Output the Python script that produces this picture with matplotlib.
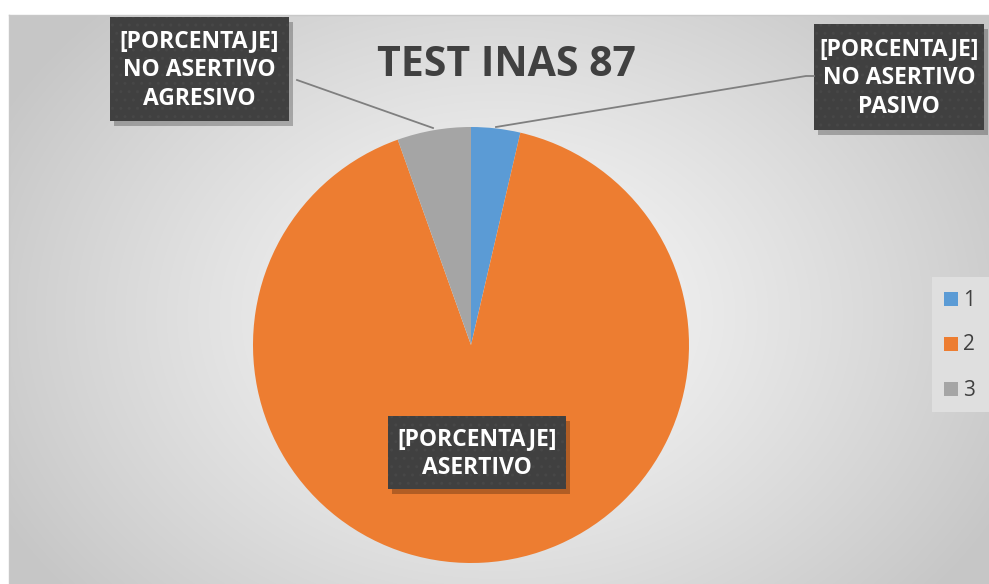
import numpy as np
import matplotlib
matplotlib.use("Agg")
import matplotlib.pyplot as plt
from matplotlib.patches import Rectangle

categories = ["1", "2", "3"]
values = [2, 50, 3]
colors = ["#5B9BD5", "#ED7D31", "#A5A5A5"]
label_texts = ["[PORCENTAJE]\nNO ASERTIVO\nPASIVO",
               "[PORCENTAJE]\nASERTIVO",
               "[PORCENTAJE]\nNO ASERTIVO\nAGRESIVO"]
title = "TEST INAS 87"

W, H = 989, 584
fig = plt.figure(figsize=(W / 100, H / 100), dpi=100)
fig.patch.set_facecolor("white")

# background chart area with radial gradient
x0, y0 = 9, 15
bg = fig.add_axes([x0 / W, 0, (W - x0) / W, (H - y0) / H])
bg.set_axis_off()
yy, xx = np.mgrid[0:H - y0, 0:W - x0]
cx, cy = 490, 300
d = np.sqrt(((xx - cx) / 560.0) ** 2 + ((yy - cy) / 430.0) ** 2)
d = np.clip(d, 0, 1)
top, bot = 0.975, 0.78
img = top - (top - bot) * d ** 1.2
bg.imshow(np.dstack([img] * 3), aspect="auto", extent=[0, 1, 0, 1])
bg.set_xlim(0, 1)
bg.set_ylim(0, 1)
fig.add_artist(plt.Line2D([x0 / W, 1], [1 - y0 / H, 1 - y0 / H], color="#c8c8c8", lw=1))
fig.add_artist(plt.Line2D([x0 / W, x0 / W], [0, 1 - y0 / H], color="#c8c8c8", lw=1))

# pie
pcx, pcy, r = 471, 345, 218
pax = fig.add_axes([(pcx - r) / W, 1 - (pcy + r) / H, 2 * r / W, 2 * r / H])
wedges, _ = pax.pie(values, colors=colors, startangle=90, counterclock=False,
                    radius=1.0, wedgeprops=dict(linewidth=0))
pax.set_xlim(-1, 1)
pax.set_ylim(-1, 1)
pax.set_axis_off()

# overlay axes in pixel coordinates
ov = fig.add_axes([0, 0, 1, 1], zorder=5)
ov.set_xlim(0, W)
ov.set_ylim(H, 0)
ov.set_axis_off()
ov.patch.set_alpha(0)

font = ["Open Sans", "DejaVu Sans"]

ov.text(506, 66, title, ha="center", va="center", fontsize=29.5, fontweight="bold",
        color="#404040", family=font)

# leader lines
ov.plot([297, 433], [80, 128], color="#7f7f7f", lw=1.3)
ov.plot([496, 806, 814], [127, 76, 76], color="#7f7f7f", lw=1.3)

boxes = [(814, 24, 984, 130), (388, 416, 566, 489), (110, 17, 289, 121)]
for (bx0, by0, bx1, by1), txt in zip(boxes, label_texts):
    ov.add_patch(Rectangle((bx0 + 4, by0 + 5), bx1 - bx0, by1 - by0,
                           facecolor="black", alpha=0.25, lw=0))
    ov.add_patch(Rectangle((bx0, by0), bx1 - bx0, by1 - by0,
                           facecolor="#404040", lw=0, hatch="..",
                           edgecolor="#474747"))
    ov.text((bx0 + bx1) / 2, (by0 + by1) / 2 + 1, txt, ha="center", va="center",
            fontsize=16.5, fontweight="bold", color="white", family=font,
            linespacing=1.3)

# legend
ov.add_patch(Rectangle((932, 277), 60, 135, facecolor="#dfdfdf", lw=0))
for i, (c, lab) in enumerate(zip(colors, categories)):
    ly = 299 + 45 * i
    ov.add_patch(Rectangle((944, ly - 7), 14, 14, facecolor=c, lw=0))
    ov.text(963, ly + 1, lab, ha="left", va="center", fontsize=15, color="#404040",
            family=font)

fig.savefig("out.png", dpi=100)
